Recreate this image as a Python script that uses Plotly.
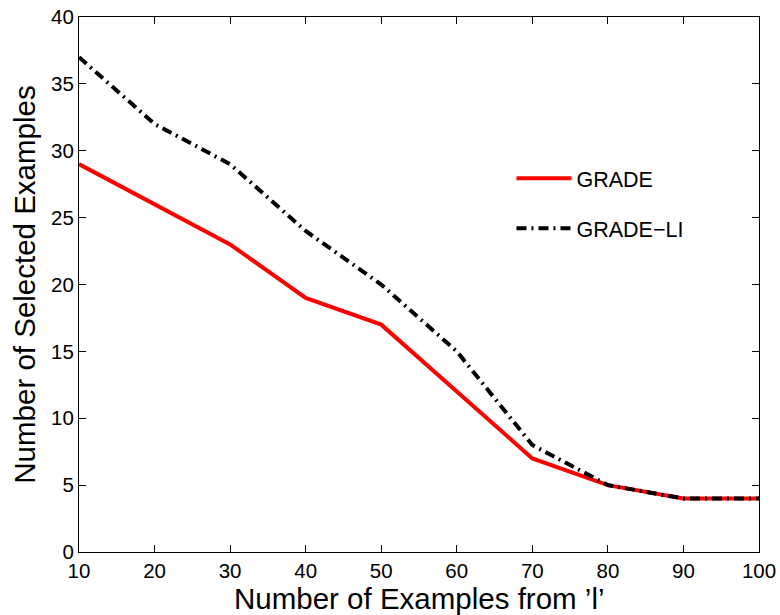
import plotly.graph_objects as go

# Number of examples taken from class 'l'
examples = [10, 20, 30, 40, 50, 60, 70, 80, 90, 100]
grade = [29, 26, 23, 19, 17, 12, 7, 5, 4, 4]
grade_li = [37, 32, 29, 24, 20, 15, 8, 5, 4, 4]
x_ticks = [10, 20, 30, 40, 50, 60, 70, 80, 90, 100]
y_ticks = [0, 5, 10, 15, 20, 25, 30, 35, 40]

FONT = "Liberation Sans, Arial, sans-serif"

fig = go.Figure()
fig.add_trace(go.Scatter(
    x=examples, y=grade, mode="lines", name="GRADE",
    line=dict(color="#ff0000", width=4), legendgroup="a",
))
fig.add_trace(go.Scatter(
    x=examples, y=grade_li, mode="lines", name="GRADE\u2212LI",
    line=dict(color="#000000", width=4, dash="10px,5px,2px,5px"), legendgroup="b",
))

axis_common = dict(
    showgrid=False, zeroline=False, showline=True, linecolor="black", linewidth=1,
    mirror="ticks", ticks="inside", ticklen=7, tickcolor="black", automargin=False,
    tickfont=dict(family=FONT, size=20.5, color="black"),
)

fig.update_layout(
    template="none",
    width=780, height=615,
    margin=dict(l=79, r=21, t=17, b=63),
    paper_bgcolor="white", plot_bgcolor="white",
    font=dict(family=FONT, color="black"),
    xaxis=dict(range=[10, 100], tickvals=x_ticks, **axis_common),
    yaxis=dict(
        range=[0, 40], tickvals=y_ticks,
        title=dict(text="Number of Selected Examples",
                   font=dict(family=FONT, size=29.5, color="black"), standoff=6),
        **axis_common,
    ),
    legend=dict(
        x=0.636, y=0.737, xanchor="left", yanchor="top",
        bgcolor="rgba(0,0,0,0)", borderwidth=0,
        font=dict(family=FONT, size=21.5, color="black"),
        itemwidth=55, tracegroupgap=19,
    ),
    annotations=[dict(
        text="Number of Examples from \u2019l\u2019", xref="paper", yref="paper",
        x=0.5, y=0, xanchor="center", yanchor="top", yshift=-28, showarrow=False,
        font=dict(family=FONT, size=29.5, color="black"),
    )],
)

fig.write_html("out.html")
